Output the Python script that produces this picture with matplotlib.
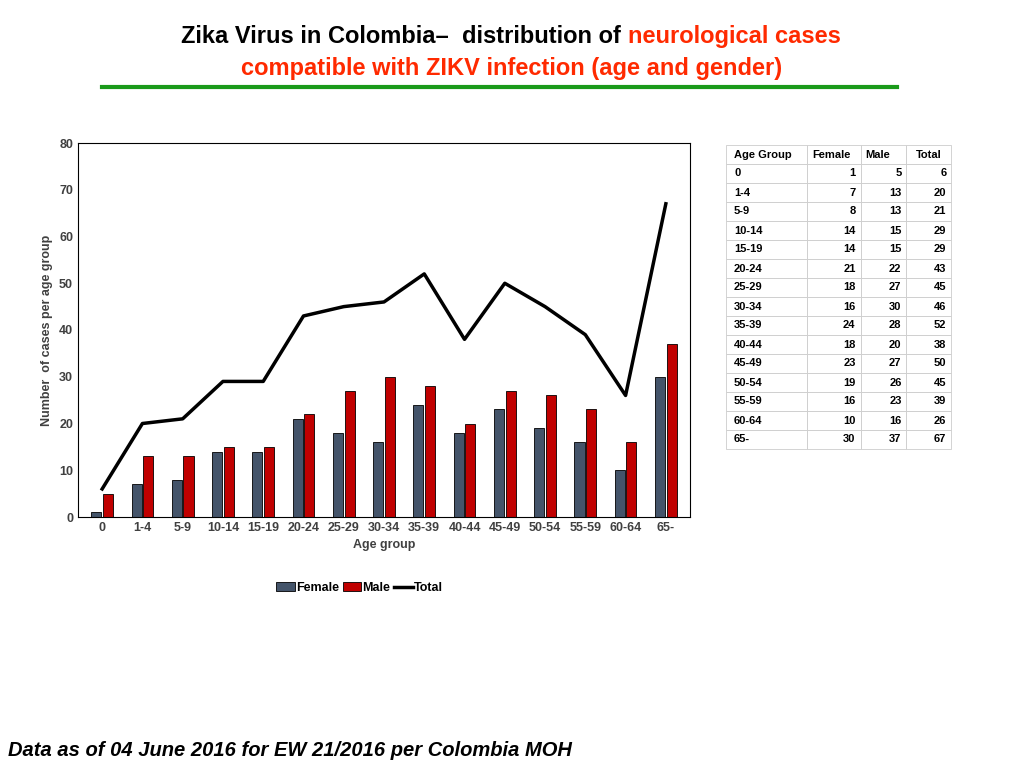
import matplotlib
matplotlib.use("Agg")
import matplotlib.pyplot as plt
import numpy as np

age_groups = ["0", "1-4", "5-9", "10-14", "15-19", "20-24", "25-29", "30-34",
              "35-39", "40-44", "45-49", "50-54", "55-59", "60-64", "65-"]
female = [1, 7, 8, 14, 14, 21, 18, 16, 24, 18, 23, 19, 16, 10, 30]
male = [5, 13, 13, 15, 15, 22, 27, 30, 28, 20, 27, 26, 23, 16, 37]
total = [6, 20, 21, 29, 29, 43, 45, 46, 52, 38, 50, 45, 39, 26, 67]

plt.rcParams['font.family'] = ['Liberation Sans', 'DejaVu Sans']
fig = plt.figure(figsize=(10.24, 7.68), dpi=100)

# title
red = '#ff2a00'
fig.text(0.613, 0.952, "Zika Virus in Colombia\u2013  distribution of ", ha='right', va='center',
         fontsize=17, fontweight='bold', color='black')
fig.text(0.613, 0.952, "neurological cases", ha='left', va='center',
         fontsize=17, fontweight='bold', color=red)
fig.text(0.5, 0.911, "compatible with ZIKV infection (age and gender)", ha='center', va='center',
         fontsize=17, fontweight='bold', color=red)
fig.add_artist(plt.Line2D([102/1024, 897/1024], [1-87/768]*2, color='#1a9a1a', lw=3))

ax = fig.add_axes([78/1024, 1-517/768, 612/1024, 374/768])
x = np.arange(len(age_groups))
w = 0.25
b1 = ax.bar(x - w/2 - 0.02, female, w, color='#44546a', edgecolor='black', lw=0.6, label='Female')
b2 = ax.bar(x + w/2 + 0.02, male, w, color='#c00000', edgecolor='black', lw=0.6, label='Male')
l1, = ax.plot(x, total, color='black', lw=2.5, label='Total')
ax.set_xlim(-0.6, len(age_groups) - 0.4)
ax.set_ylim(0, 80)
ax.set_yticks(range(0, 81, 10))
ax.set_xticks(x)
ax.set_xticklabels(age_groups)
ax.tick_params(labelsize=9, colors='#404040', length=0)
for t in ax.get_xticklabels() + ax.get_yticklabels():
    t.set_fontweight('bold')
ax.set_xlabel("Age group", fontsize=9, fontweight='bold', color='#404040')
ax.set_ylabel("Number  of cases per age group", fontsize=9, fontweight='bold', color='#404040')
ax.legend([b1, b2, l1], ['Female', 'Male', 'Total'], loc='center', bbox_to_anchor=(0.46, -0.19),
          ncol=3, frameon=False, handlelength=1.5, handletextpad=0.1, columnspacing=0.3,
          prop={'weight': 'bold', 'size': 9})

# table
tax = fig.add_axes([726/1024, 1-449/768, 225/1024, 304/768])
tax.axis('off')
rows = [[a, str(f), str(m), str(t)] for a, f, m, t in zip(age_groups, female, male, total)]
tbl = tax.table(cellText=rows, colLabels=["Age Group", "Female", "Male", "Total"],
                bbox=[0, 0, 1, 1], colWidths=[0.36, 0.24, 0.2, 0.2])
tbl.auto_set_font_size(False)
for (r, c), cell in tbl.get_celld().items():
    cell.set_edgecolor('#cccccc')
    cell.set_linewidth(0.6)
    txt = cell.get_text()
    txt.set_fontsize(8)
    txt.set_fontweight('bold')
    if r == 0:
        loc = 'left' if c < 3 else 'center'
    else:
        loc = 'left' if c == 0 else 'right'
    cell._loc = loc
    txt.set_ha(loc)

fig.text(8/1024, 1-750/768, "Data as of 04 June 2016 for EW 21/2016 per Colombia MOH",
         fontsize=14.5, fontweight='bold', style='italic', va='center')

fig.savefig("out.png", dpi=100)
